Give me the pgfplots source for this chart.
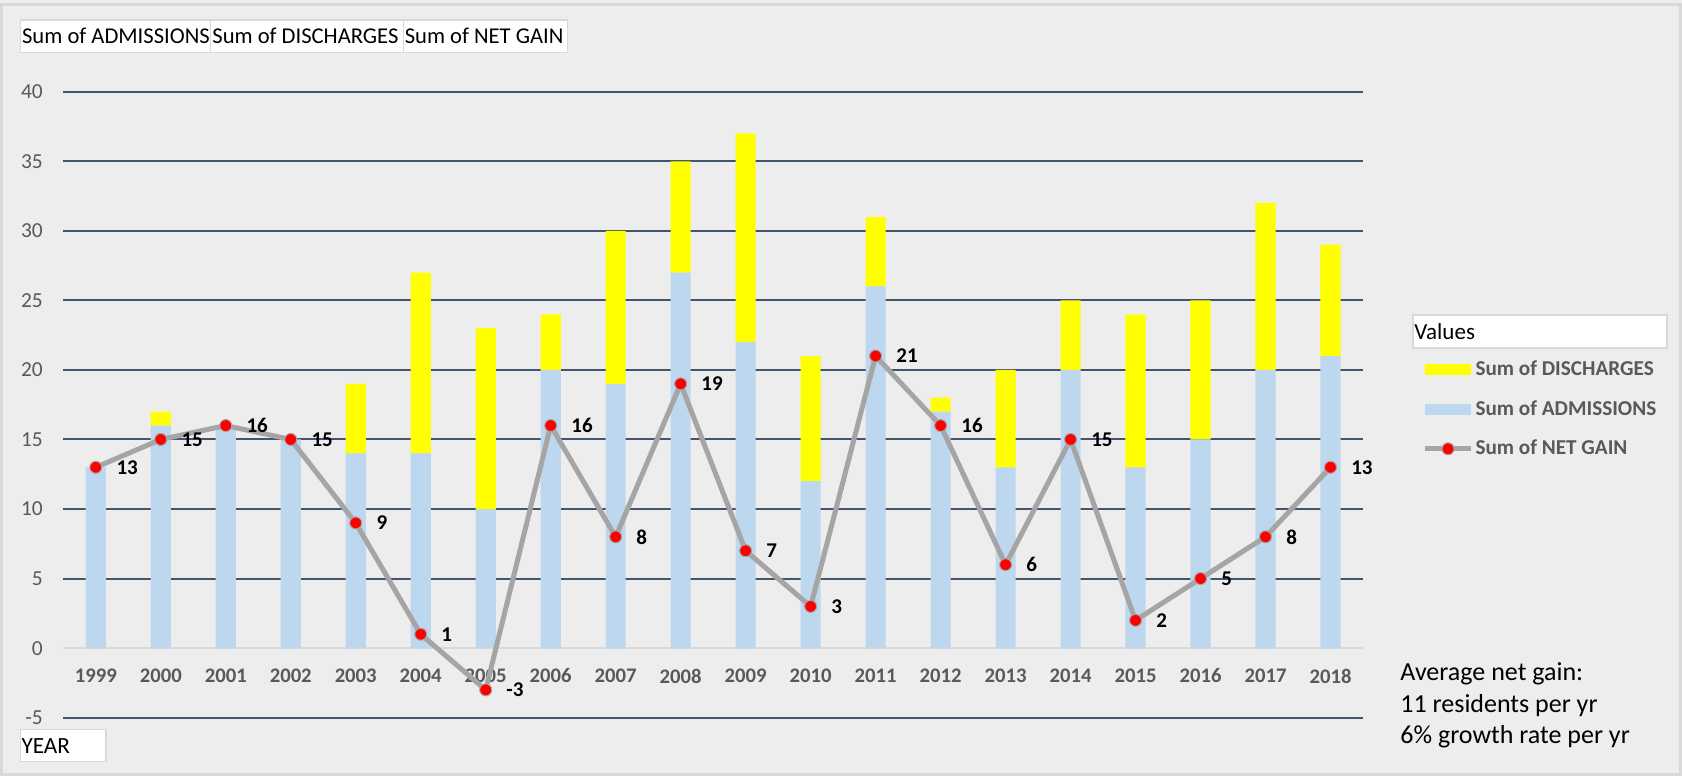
\documentclass[border=0pt]{standalone}
\usepackage{pgfplots}
\usepackage{pgfplotstable}
\pgfplotsset{compat=1.18}
\usepackage{fontspec}
\setmainfont{Carlito}

\definecolor{bgc}{HTML}{EDEDED}
\definecolor{bordc}{HTML}{D9D9D9}
\definecolor{gridc}{HTML}{44546A}
\definecolor{admc}{HTML}{BDD7EE}
\definecolor{disc}{HTML}{FFFF00}
\definecolor{netc}{HTML}{A5A5A5}
\definecolor{txtc}{HTML}{595959}

\pgfplotstableread{
x year adm dis net
0 1999 13 0 13
1 2000 16 1 15
2 2001 16 0 16
3 2002 15 0 15
4 2003 14 5 9
5 2004 14 13 1
6 2005 10 13 -3
7 2006 20 4 16
8 2007 19 11 8
9 2008 27 8 19
10 2009 22 15 7
11 2010 12 9 3
12 2011 26 5 21
13 2012 17 1 16
14 2013 13 7 6
15 2014 20 5 15
16 2015 13 11 2
17 2016 15 10 5
18 2017 20 12 8
19 2018 21 8 13
}\datatable

\pgfplotsset{
  common/.style={
    scale only axis, width=649.85pt, height=313pt,
    at={(31.65pt,29.15pt)}, anchor=south west,
    xmin=-0.5, xmax=19.5, ymin=-5, ymax=40,
  },
  barleg/.style={legend image code/.code={\fill[##1, draw=none] (0pt,-2.75pt) rectangle (23pt,2.75pt);}},
  lineleg/.style={legend image code/.code={\draw[mark repeat=2,mark phase=2,##1] plot coordinates {(0pt,0pt) (11.5pt,0pt) (23pt,0pt)};}},
}

\begin{document}
\begin{tikzpicture}
\useasboundingbox (0,0) rectangle (841pt,388pt);
\fill[bgc] (0,0) rectangle (841pt,388pt);
\draw[bordc, line width=1.5pt] (0.75pt,0.75pt) rectangle (840.25pt,385.5pt);

\begin{axis}[common,
  ybar stacked, bar width=0.31,
  axis lines*=left, axis line style={draw=none},
  major tick length=0pt,
  ytick={-5,5,10,...,40},
  extra y ticks={0},
  extra y tick style={grid style={bordc, line width=1.2pt}},
  ymajorgrids, grid style={gridc, line width=1pt},
  xtick={0,...,19},
  xticklabels={1999,2000,2001,2002,2003,2004,2005,2006,2007,2008,2009,2010,2011,2012,2013,2014,2015,2016,2017,2018},
  xticklabel style={font=\bfseries\fontsize{10.35}{12}\selectfont, text=txtc, yshift=28pt},
  yticklabel style={font=\fontsize{10.7}{12}\selectfont, text=txtc, xshift=-6.7pt},
  /pgf/number format/assume math mode=true,
]
\addplot[fill=admc, draw=none] table[x=x, y=adm]{\datatable};
\addplot[fill=disc, draw=none] table[x=x, y=dis]{\datatable};
\end{axis}

\begin{axis}[common, hide axis,
  /pgf/number format/assume math mode=true,
  legend style={at={(axis description cs:1.0455,0.5738)}, anchor=north west,
    draw=none, fill=none, inner sep=0pt, row sep=8.9pt, column sep=0pt,
    font=\bfseries\fontsize{10.6}{12}\selectfont,
    nodes={inner sep=1pt, text=txtc}},
  legend cell align=left,
]
\addlegendimage{barleg, fill=disc, draw=none}
\addlegendentry{Sum of DISCHARGES}
\addlegendimage{barleg, fill=admc, draw=none}
\addlegendentry{Sum of ADMISSIONS}
\addlegendimage{lineleg, netc, line width=2.5pt, mark=*, mark size=3pt, mark options={fill=red, draw=netc, line width=0.5pt}}
\addlegendentry{Sum of NET GAIN}
\addplot[netc, line width=2.5pt, line join=round, mark=*, mark size=3pt,
  mark options={fill=red, draw=netc, line width=0.5pt},
  nodes near coords,
  every node near coord/.append style={anchor=west, xshift=6.8pt, font=\bfseries\fontsize{10.5}{12}\selectfont, text=black}]
  table[x=x, y=net]{\datatable};
\end{axis}

% field buttons
\draw[bordc, fill=white, line width=0.75pt] (10.35pt,361.85pt) rectangle (105.35pt,378pt);
\draw[bordc, fill=white, line width=0.75pt] (105.35pt,361.85pt) rectangle (201.65pt,378pt);
\draw[bordc, fill=white, line width=0.75pt] (201.65pt,361.85pt) rectangle (283.65pt,378pt);
\node[anchor=base west, inner sep=0pt, font=\fontsize{11.3}{13}\selectfont] at (10.85pt,366pt) {Sum of ADMISSIONS};
\node[anchor=base west, inner sep=0pt, font=\fontsize{11.3}{13}\selectfont] at (106pt,366pt) {Sum of DISCHARGES};
\node[anchor=base west, inner sep=0pt, font=\fontsize{11.3}{13}\selectfont] at (202.2pt,366pt) {Sum of NET GAIN};

% Values box
\draw[bordc, fill=white, line width=0.75pt] (706.5pt,214pt) rectangle (833.5pt,230.5pt);
\node[anchor=base west, inner sep=0pt, font=\fontsize{11.5}{13}\selectfont] at (707pt,218pt) {Values};

% YEAR box
\draw[bordc, fill=white, line width=0.75pt] (10.35pt,7.15pt) rectangle (53pt,23.35pt);
\node[anchor=base west, inner sep=0pt, font=\fontsize{11.6}{13}\selectfont] at (10.6pt,11.35pt) {YEAR};

% annotation
\node[anchor=base west, inner sep=0pt, font=\fontsize{13}{15}\selectfont] at (700pt,47.5pt) {Average net gain:};
\node[anchor=base west, inner sep=0pt, font=\fontsize{13}{15}\selectfont] at (700pt,31.5pt) {11 residents per yr};
\node[anchor=base west, inner sep=0pt, font=\fontsize{13}{15}\selectfont] at (700pt,16.35pt) {6\% growth rate per yr};
\end{tikzpicture}
\end{document}
